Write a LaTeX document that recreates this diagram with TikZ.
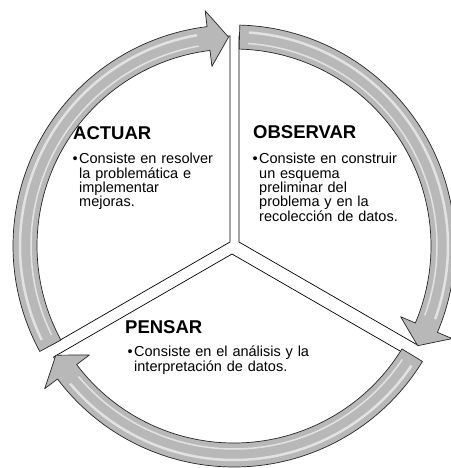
\documentclass[tikz,border=0pt]{standalone}
\usepackage{fontspec}
\setmainfont{Liberation Sans}
\usetikzlibrary{positioning}

\definecolor{ringgray}{RGB}{184,184,184}

\tikzset{
  sector/.style={draw=black, fill=white, line width=0.7pt},
  cyclearrow/.style={draw=black!85, fill=ringgray, line width=0.7pt, line join=round},
  gloss/.style={white, opacity=0.6},
  heading/.style={font=\bfseries\fontsize{18.5}{20}\selectfont, inner sep=0pt, anchor=base west},
  bullettext/.style={font=\fontsize{14.5}{14.3}\selectfont, text width=210pt, align=left, inner sep=0pt},
}

\newcommand{\bul}{\llap{•\hspace{1.5pt}}}

\begin{document}
\begin{tikzpicture}[x=1pt, y=1pt]
    \useasboundingbox (0,0) rectangle (450,468);
    \begin{scope}[shift={(234,222)}]
        \coordinate (ac) at (-4,4);
        \coordinate (ob) at (5,4);
        \coordinate (pe) at (-2,-8);

        \draw[sector] (ac) -- ++(90:206pt) arc[start angle=90, end angle=210, radius=206pt] -- cycle;
        \draw[sector] (ob) -- ++(90:206pt) arc[start angle=90, end angle=-30, radius=206pt] -- cycle;
        \draw[sector] (pe) -- ++(210:206pt) arc[start angle=210, end angle=330, radius=206pt] -- cycle;

        \foreach \a in {0,120,240} {
            \draw[cyclearrow] (88.5+\a:221pt) arc[start angle=88.5+\a, end angle=-23+\a, radius=221pt]
                -- (-23+\a:237pt) -- (-28.5+\a:209pt) -- (-23+\a:181pt) -- (-23+\a:197pt)
                arc[start angle=-23+\a, end angle=88.5+\a, radius=197pt] -- cycle;
            \draw[gloss, line width=2.5pt] (86+\a:214pt) arc[start angle=86+\a, end angle=-20+\a, radius=214pt];
            \draw[gloss, line width=1.5pt] (86+\a:203pt) arc[start angle=86+\a, end angle=-20+\a, radius=203pt];
        }
    \end{scope}

    \node[heading] (act) at (73,328) {ACTUAR};
    \node[bullettext, below right=24pt and 6pt of act.base west, anchor=base west] (actt)
        {\bul Consiste en resolver\\ la problemática e\\ implementar\\ mejoras.};

    \node[heading] (obs) at (253,329) {OBSERVAR};
    \node[bullettext, below right=25pt and 6pt of obs.base west, anchor=base west] (obst)
        {\bul Consiste en construir\\ un esquema\\ preliminar del\\ problema y en la\\ recolección de datos.};

    \node[heading] (pen) at (125,134) {PENSAR};
    \node[bullettext, below right=23pt and 9pt of pen.base west, anchor=base west] (pent)
        {\bul Consiste en el análisis y la\\ interpretación de datos.};
\end{tikzpicture}
\end{document}
